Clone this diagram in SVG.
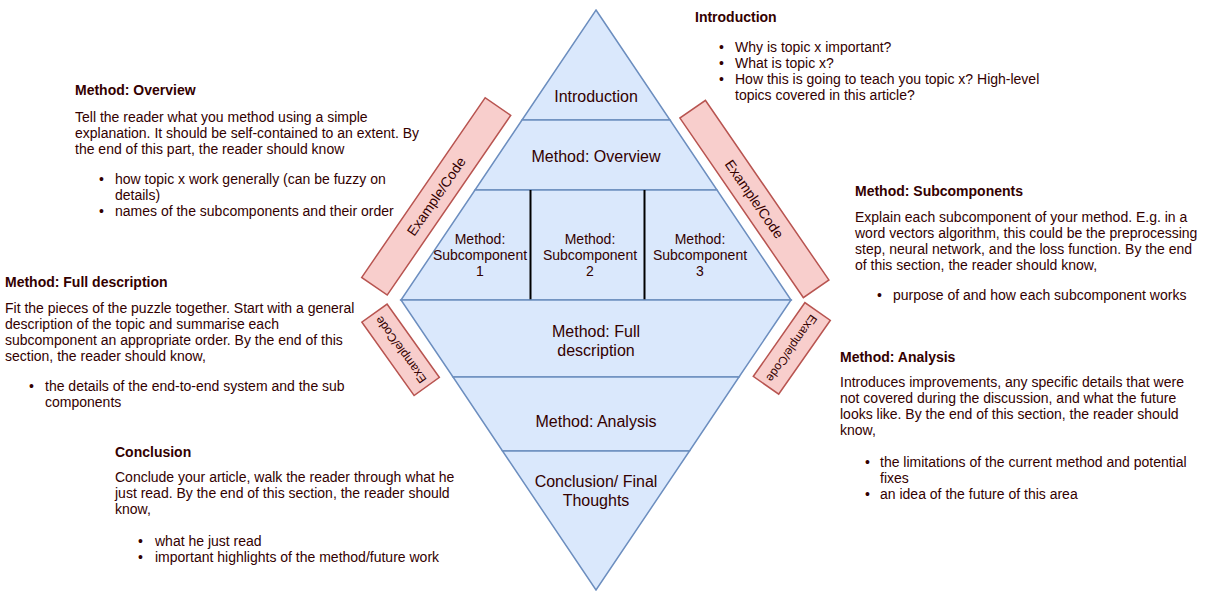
<svg xmlns="http://www.w3.org/2000/svg" width="1211" height="591" viewBox="0 0 1211 591">
<style>
.band{fill:#dae8fc;stroke:#6c8ebf;stroke-width:1.5;stroke-linejoin:miter}
.ex{fill:#f8cecc;stroke:#b85450;stroke-width:1.5}
.div{stroke:#000;stroke-width:2}
.t{font-family:"Liberation Sans",Arial,sans-serif;font-size:14px;fill:#330000}
.h{font-weight:bold}
.c{font-family:"Liberation Sans",Arial,sans-serif;font-size:16px;fill:#330000;text-anchor:middle}
.s{font-family:"Liberation Sans",Arial,sans-serif;font-size:14px;fill:#330000;text-anchor:middle}
.e{font-family:"Liberation Sans",Arial,sans-serif;font-size:14px;fill:#330000;text-anchor:middle}
.es{font-family:"Liberation Sans",Arial,sans-serif;font-size:12px;fill:#330000;text-anchor:middle}
</style>
<rect width="1211" height="591" fill="#ffffff"/>

<g id="intro-band">
<polygon class="band" points="596,10 670,120 522,120"/>
<text class="c" x="596" y="102">Introduction</text>
</g>
<g id="overview-band">
<polygon class="band" points="522,120 670,120 717,190 475,190"/>
<text class="c" x="596" y="162">Method: Overview</text>
</g>
<g id="subcomponents-band">
<polygon class="band" points="475,190 717,190 791,300 401,300"/>
</g>
<g id="sub1">
<text class="s" x="480" y="244">Method:</text>
<text class="s" x="480" y="260">Subcomponent</text>
<text class="s" x="480" y="275.5">1</text>
</g>
<g id="sub2">
<line class="div" x1="530.5" y1="190" x2="530.5" y2="300"/>
<text class="s" x="590" y="244">Method:</text>
<text class="s" x="590" y="260">Subcomponent</text>
<text class="s" x="590" y="275.5">2</text>
</g>
<g id="sub3">
<line class="div" x1="644.5" y1="190" x2="644.5" y2="300"/>
<text class="s" x="700" y="244">Method:</text>
<text class="s" x="700" y="260">Subcomponent</text>
<text class="s" x="700" y="275.5">3</text>
</g>
<g id="full-band">
<polygon class="band" points="401,300 791,300 739,377 453,377"/>
<text class="c" x="596" y="337">Method: Full</text>
<text class="c" x="596" y="356">description</text>
</g>
<g id="analysis-band">
<polygon class="band" points="453,377 739,377 689.5,451 502.5,451"/>
<text class="c" x="596" y="427">Method: Analysis</text>
</g>
<g id="conclusion-band">
<polygon class="band" points="502.5,451 689.5,451 596,590"/>
<text class="c" x="596" y="487">Conclusion/ Final</text>
<text class="c" x="596" y="506">Thoughts</text>
</g>

<g id="example-upper-left" transform="translate(436.2,196.4) rotate(-55.5)">
<rect class="ex" x="-109" y="-15.5" width="218" height="31"/>
<text class="e" x="0" y="5">Example/Code</text>
</g>
<g id="example-upper-right" transform="translate(754.4,199) rotate(55.5)">
<rect class="ex" x="-109" y="-15.5" width="218" height="31"/>
<text class="e" x="0" y="5">Example/Code</text>
</g>
<g id="example-lower-left" transform="translate(400.6,349.8) rotate(234.5)">
<rect class="ex" x="-45" y="-15.5" width="90" height="31"/>
<text class="es" x="0" y="4.2">Example/Code</text>
</g>
<g id="example-lower-right" transform="translate(791.8,348.4) rotate(125)">
<rect class="ex" x="-45" y="-15.5" width="90" height="31"/>
<text class="es" x="0" y="4.2">Example/Code</text>
</g>

<g id="connectors"></g>

<g id="note-introduction">
<text class="t h" x="695" y="21.5">Introduction</text>
<text class="t" x="719" y="51.5">•</text><text class="t" x="735" y="51.5">Why is topic x important?</text>
<text class="t" x="719" y="67.5">•</text><text class="t" x="735" y="67.5">What is topic x?</text>
<text class="t" x="719" y="83.5">•</text><text class="t" x="735" y="83.5">How this is going to teach you topic x? High-level</text>
<text class="t" x="735" y="99.5">topics covered in this article?</text>
</g>

<g id="note-overview">
<text class="t h" x="75" y="95">Method: Overview</text>
<text class="t" x="75" y="121.5">Tell the reader what you method using a simple</text>
<text class="t" x="75" y="137.5">explanation. It should be self-contained to an extent. By</text>
<text class="t" x="75" y="153.5">the end of this part, the reader should know</text>
<text class="t" x="99" y="183.5">•</text><text class="t" x="115" y="183.5">how topic x work generally (can be fuzzy on</text>
<text class="t" x="115" y="199.5">details)</text>
<text class="t" x="99" y="215.5">•</text><text class="t" x="115" y="215.5">names of the subcomponents and their order</text>
</g>

<g id="note-full">
<text class="t h" x="5" y="286.5">Method: Full description</text>
<text class="t" x="5" y="313">Fit the pieces of the puzzle together. Start with a general</text>
<text class="t" x="5" y="329">description of the topic and summarise each</text>
<text class="t" x="5" y="345">subcomponent an appropriate order. By the end of this</text>
<text class="t" x="5" y="361">section, the reader should know,</text>
<text class="t" x="29" y="391">•</text><text class="t" x="45" y="391">the details of the end-to-end system and the sub</text>
<text class="t" x="45" y="407">components</text>
</g>

<g id="note-conclusion">
<text class="t h" x="115" y="456.5">Conclusion</text>
<text class="t" x="115" y="481.5">Conclude your article, walk the reader through what he</text>
<text class="t" x="115" y="497.5">just read. By the end of this section, the reader should</text>
<text class="t" x="115" y="513.5">know,</text>
<text class="t" x="138" y="546">•</text><text class="t" x="155" y="546">what he just read</text>
<text class="t" x="138" y="562">•</text><text class="t" x="155" y="562">important highlights of the method/future work</text>
</g>

<g id="note-subcomponents">
<text class="t h" x="855" y="195.5">Method: Subcomponents</text>
<text class="t" x="855" y="221.5">Explain each subcomponent of your method. E.g. in a</text>
<text class="t" x="855" y="237.5">word vectors algorithm, this could be the preprocessing</text>
<text class="t" x="855" y="253.5">step, neural network, and the loss function. By the end</text>
<text class="t" x="855" y="269.5">of this section, the reader should know,</text>
<text class="t" x="877" y="299.5">•</text><text class="t" x="893" y="299.5">purpose of and how each subcomponent works</text>
</g>

<g id="note-analysis">
<text class="t h" x="840" y="361.5">Method: Analysis</text>
<text class="t" x="840" y="386.5">Introduces improvements, any specific details that were</text>
<text class="t" x="840" y="402.5">not covered during the discussion, and what the future</text>
<text class="t" x="840" y="418.5">looks like. By the end of this section, the reader should</text>
<text class="t" x="840" y="434.5">know,</text>
<text class="t" x="865" y="466.5">•</text><text class="t" x="880" y="466.5">the limitations of the current method and potential</text>
<text class="t" x="880" y="482.5">fixes</text>
<text class="t" x="865" y="498.5">•</text><text class="t" x="880" y="498.5">an idea of the future of this area</text>
</g>
</svg>
